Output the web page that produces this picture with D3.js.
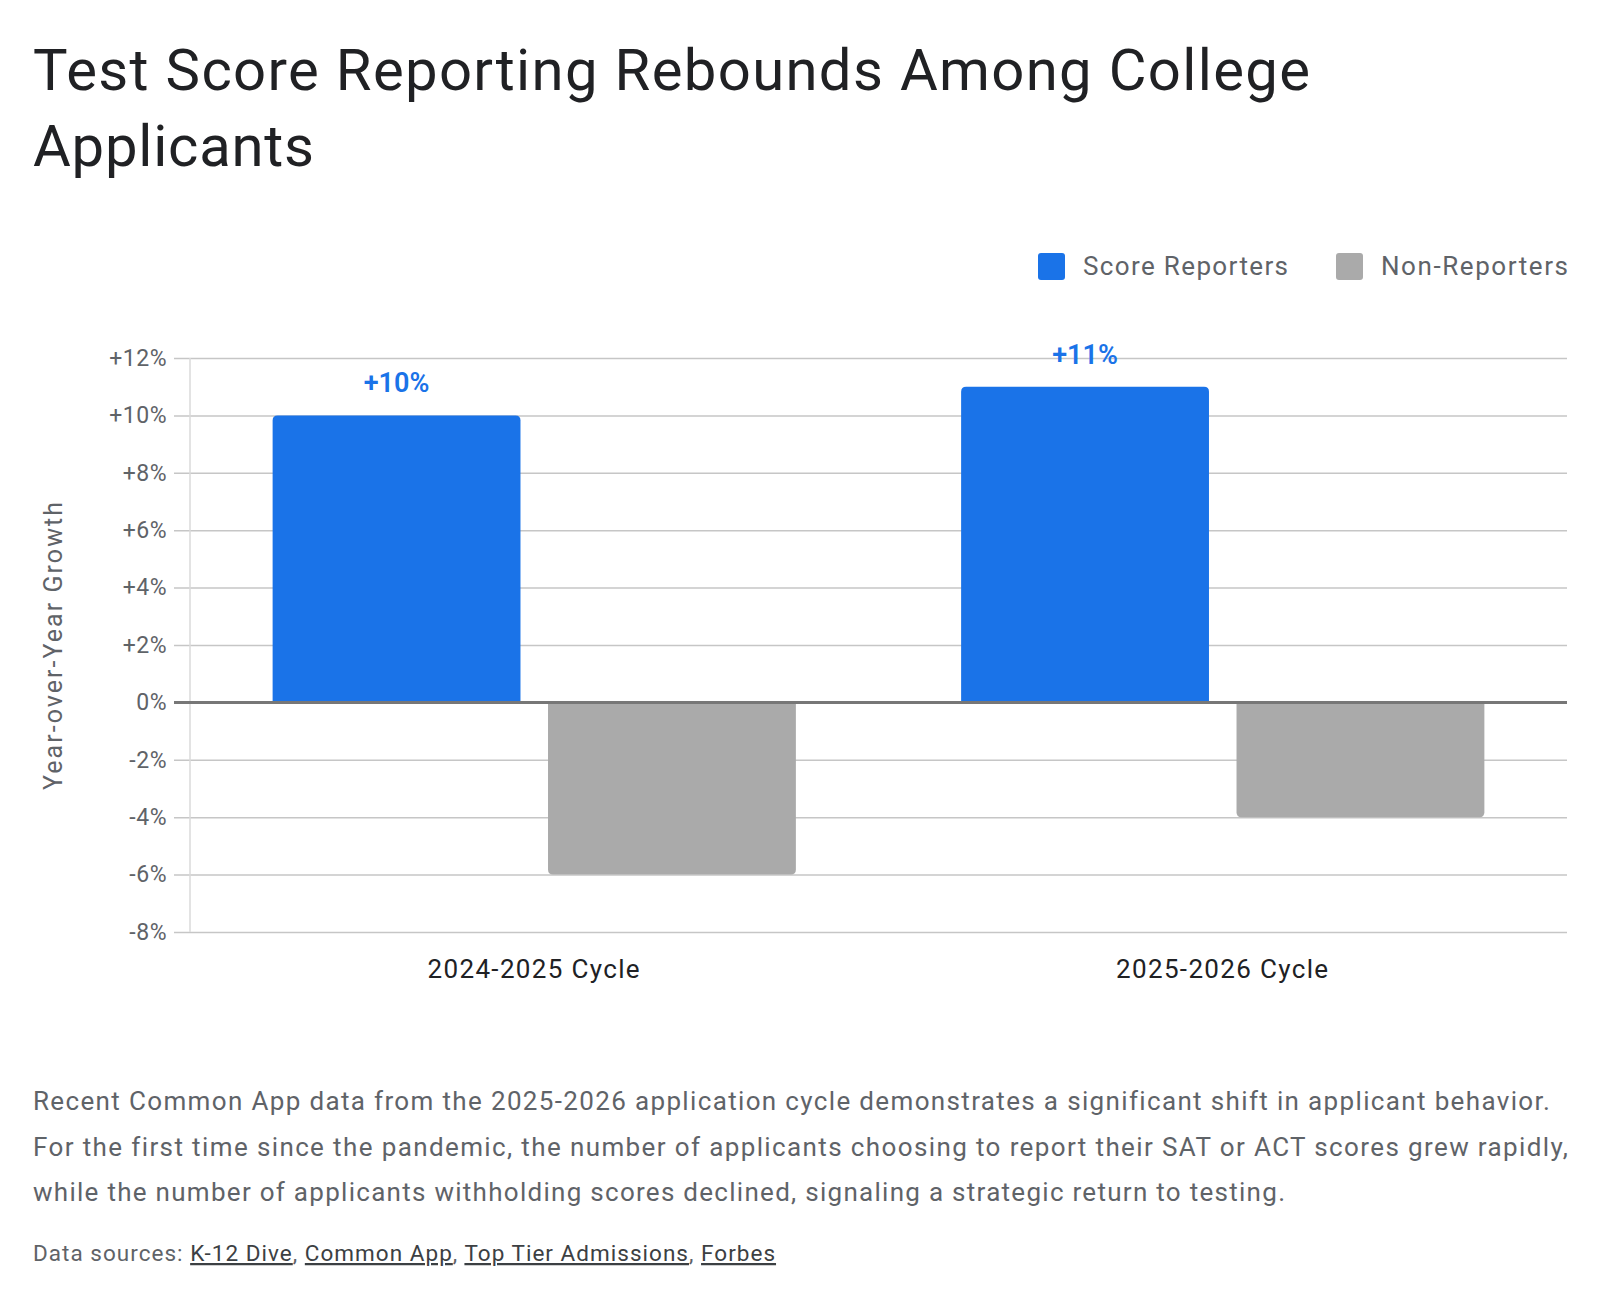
<!DOCTYPE html>
<html>
<head>
<meta charset="utf-8">
<script src="https://cdn.jsdelivr.net/npm/d3@7"></script>
<style>
	body { margin: 0; background: #fff; }
	svg text { font-family: Roboto, "Noto Sans", sans-serif; }
</style>
</head>
<body>
<svg id="chart" width="1600" height="1302"></svg>
<script>
// chart data
const categories = ["2024-2025 Cycle", "2025-2026 Cycle"];
const seriesNames = ["Score Reporters", "Non-Reporters"];
const scoreReporters = [10, 11];
const nonReporters = [-6, -4];
const yTicks = [-8, -6, -4, -2, 0, 2, 4, 6, 8, 10, 12];
const titleLines = ["Test Score Reporting Rebounds Among College", "Applicants"];
const descriptionLines = [
	"Recent Common App data from the 2025-2026 application cycle demonstrates a significant shift in applicant behavior.",
	"For the first time since the pandemic, the number of applicants choosing to report their SAT or ACT scores grew rapidly,",
	"while the number of applicants withholding scores declined, signaling a strategic return to testing."
];
const sources = ["K-12 Dive", "Common App", "Top Tier Admissions", "Forbes"];

const colors = { "Score Reporters": "#1a73e8", "Non-Reporters": "#aaaaaa" };

const svg = d3.select("#chart");

const plot = { left: 190, right: 1567, top: 358, bottom: 932 };

// stretch text to the width seen in the reference (font there is a bit wider)
function fitWidth(node, target) {
	const text = node.textContent;
	const w = node.getComputedTextLength();
	const n = Math.max(text.length - 1, 1);
	node.setAttribute("letter-spacing", ((target - w) / n).toFixed(3));
}

// title
svg.append("g")
	.selectAll("text")
	.data(titleLines)
	.enter()
	.append("text")
	.attr("x", 33)
	.attr("y", (d, i) => 90 + i * 76)
	.attr("font-size", 58)
	.attr("fill", "#202124")
	.text(d => d)
	.each(function(d, i) { fitWidth(this, [1277, 281][i]); });

// scales
const x0 = d3.scaleBand()
	.domain(categories)
	.range([plot.left, plot.right])
	.paddingInner(0.24)
	.paddingOuter(0.12);

const x1 = d3.scaleBand()
	.domain(seriesNames)
	.range([0, x0.bandwidth()])
	.paddingInner(0.1);

const y = d3.scaleLinear()
	.domain([-8, 12])
	.range([plot.bottom, plot.top]);

// grid + tick labels
const yAxis = d3.axisLeft(y)
	.tickValues(yTicks)
	.tickSize(-(plot.right - plot.left + 16))
	.tickPadding(7)
	.tickFormat(d => d > 0 ? "+" + d + "%" : d + "%");

const gy = svg.append("g")
	.attr("class", "y axis")
	.attr("transform", "translate(" + (plot.left - 16) + ",0)")
	.call(yAxis);

gy.select(".domain").remove();
gy.selectAll(".tick line")
	.attr("stroke", "#c6c6c6")
	.attr("stroke-width", 1.5);
gy.selectAll(".tick text")
	.attr("font-size", 23)
	.attr("fill", "#5f6368")
	.attr("letter-spacing", 0.5);

// left axis line
svg.append("line")
	.attr("x1", plot.left).attr("x2", plot.left)
	.attr("y1", plot.top).attr("y2", plot.bottom)
	.attr("stroke", "#dadada")
	.attr("stroke-width", 1.5);

// y axis title
svg.append("text")
	.attr("transform", "translate(62," + ((plot.top + plot.bottom) / 2) + ") rotate(-90)")
	.attr("text-anchor", "middle")
	.attr("font-size", 25)
	.attr("fill", "#5f6368")
	.text("Year-over-Year Growth")
	.each(function() { fitWidth(this, 288); });

// bars with rounded outer corners
function barPath(x, w, v) {
	const r = 5;
	const y0 = y(0);
	const y1 = y(v);
	const s = v >= 0 ? 1 : -1;
	return "M" + x + "," + y0 +
		"V" + (y1 + s * r) + "Q" + x + "," + y1 + " " + (x + r) + "," + y1 +
		"H" + (x + w - r) + "Q" + (x + w) + "," + y1 + " " + (x + w) + "," + (y1 + s * r) +
		"V" + y0 + "Z";
}

const seriesValues = { "Score Reporters": scoreReporters, "Non-Reporters": nonReporters };

const groups = svg.append("g")
	.classed("bars", true)
	.selectAll("g")
	.data(categories)
	.enter()
	.append("g")
	.attr("transform", d => "translate(" + x0(d) + ",0)");

groups.selectAll("path.bar")
	.data((d, i) => seriesNames.map(s => ({ label: d, series: s, value: seriesValues[s][i] })))
	.enter()
	.append("path")
	.classed("bar", true)
	.attr("d", d => barPath(x1(d.series), x1.bandwidth(), d.value))
	.attr("fill", d => colors[d.series]);

// value labels for score reporters
groups.selectAll("text.value")
	.data((d, i) => [{ series: "Score Reporters", value: scoreReporters[i] }])
	.enter()
	.append("text")
	.classed("value", true)
	.attr("x", d => x1(d.series) + x1.bandwidth() / 2)
	.attr("y", d => y(d.value) - 23)
	.attr("text-anchor", "middle")
	.attr("font-size", 27)
	.attr("font-weight", 600)
	.attr("fill", "#1a73e8")
	.text(d => "+" + d.value + "%");

// zero line
svg.append("line")
	.attr("x1", plot.left - 16).attr("x2", plot.right)
	.attr("y1", y(0)).attr("y2", y(0))
	.attr("stroke", "#777")
	.attr("stroke-width", 3);

// category labels
svg.append("g")
	.selectAll("text")
	.data(categories)
	.enter()
	.append("text")
	.attr("x", d => x0(d) + x0.bandwidth() / 2)
	.attr("y", 978)
	.attr("text-anchor", "middle")
	.attr("font-size", 26)
	.attr("fill", "#202124")
	.text(d => d)
	.each(function() { fitWidth(this, 212); });

// legend
const legend = svg.append("g").attr("class", "legend");
const legendX = [1038, 1336];
const legendW = [205, 187];
seriesNames.forEach((s, i) => {
	legend.append("rect")
		.attr("x", legendX[i]).attr("y", 253)
		.attr("width", 27).attr("height", 27)
		.attr("rx", 3)
		.attr("fill", colors[s]);
	legend.append("text")
		.attr("x", legendX[i] + 45)
		.attr("y", 275)
		.attr("font-size", 26)
		.attr("fill", "#5f6368")
		.text(s)
		.each(function() { fitWidth(this, legendW[i]); });
});

// description
const descW = [1516, 1534, 1252];
svg.append("g")
	.selectAll("text")
	.data(descriptionLines)
	.enter()
	.append("text")
	.attr("x", 33)
	.attr("y", (d, i) => 1110 + i * 45.5)
	.attr("font-size", 26)
	.attr("fill", "#5f6368")
	.text(d => d)
	.each(function(d, i) { fitWidth(this, descW[i]); });

// sources
const src = svg.append("text")
	.attr("x", 33)
	.attr("y", 1261)
	.attr("font-size", 22.5)
	.attr("fill", "#5f6368");
src.append("tspan").text("Data sources: ");
sources.forEach((s, i) => {
	src.append("tspan")
		.attr("fill", "#3c4043")
		.attr("text-decoration", "underline")
		.text(s);
	if (i < sources.length - 1) src.append("tspan").text(", ");
});
fitWidth(src.node(), 742);
</script>
</body>
</html>
